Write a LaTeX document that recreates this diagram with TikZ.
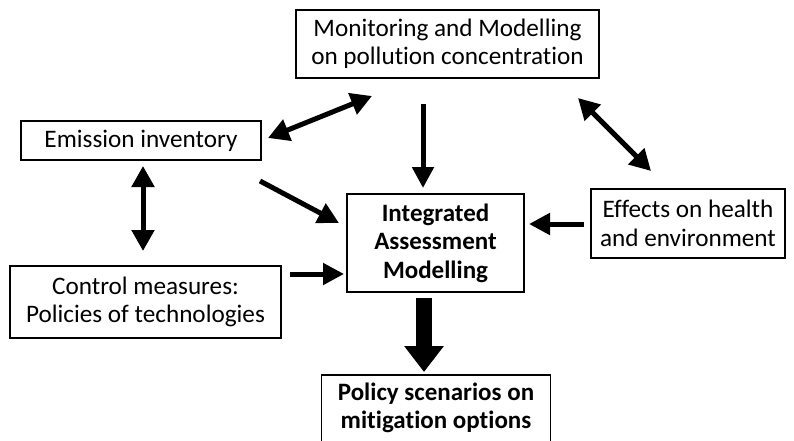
\documentclass[tikz,border=0pt]{standalone}
\usepackage{fontspec}
\setmainfont{Carlito}[Ligatures=NoCommon]
\usetikzlibrary{arrows.meta}
\begin{document}
\begin{tikzpicture}[x=1pt,y=-1pt,
  box/.style={draw, line width=1.3pt, align=center, inner sep=0pt,
    font=\fontsize{25.2}{28.5}\selectfont},
  bbox/.style={box, font=\bfseries\fontsize{25}{28.5}\selectfont},
  arr/.style={line width=5pt, -{Triangle[length=21pt,width=21pt]}},
  darr/.style={line width=5pt, {Triangle[length=21pt,width=22pt]}-{Triangle[length=21pt,width=22pt]}},
  bigarr/.style={line width=16pt, -{Triangle[length=26pt,width=38pt]}}]
\useasboundingbox (0,0) rectangle (794,441);
\fill[white] (0,0) rectangle (794,441);
\node[box, minimum width=303pt, minimum height=68pt] (mon) at (447.5,44)
  {Monitoring and Modelling\\on pollution concentration};
\node[box, minimum width=240pt, minimum height=39pt] (emi) at (141,140.5)
  {Emission inventory};
\node[box, minimum width=271pt, minimum height=72pt] (ctl) at (145.5,302)
  {Control measures:\\Policies of technologies};
\node[bbox, minimum width=177pt, minimum height=98pt] (iam) at (435.5,243)
  {Integrated\\Assessment\\Modelling};
\node[box, minimum width=194pt, minimum height=69pt] (eff) at (688,223.5)
  {Effects on health\\and environment};
\node[bbox, draw=none, minimum width=228pt, minimum height=64pt, anchor=north] (pol) at (436,375)
  {Policy scenarios on\\mitigation options};
\draw[line width=1.3pt] (pol.north west) rectangle ([yshift=-30pt]pol.south east);
% arrow end points
\coordinate (a1) at (268,138); \coordinate (b1) at (372,96);
\coordinate (a2) at (423,104); \coordinate (b2) at (423,188);
\coordinate (a3) at (578,98);  \coordinate (b3) at (651,171);
\coordinate (a4) at (143,166); \coordinate (b4) at (143,251);
\coordinate (a5) at (260,181); \coordinate (b5) at (339,223);
\coordinate (a6) at (290,274); \coordinate (b6) at (344,274);
\coordinate (a7) at (584,224); \coordinate (b7) at (529,224);
\coordinate (a8) at (424,298); \coordinate (b8) at (424,372);
\draw[darr] (a1) -- (b1);
\draw[arr] (a2) -- (b2);
\draw[darr] (a3) -- (b3);
\draw[darr] (a4) -- (b4);
\draw[arr] (a5) -- (b5);
\draw[arr] (a6) -- (b6);
\draw[arr] (a7) -- (b7);
\draw[bigarr] (a8) -- (b8);
\end{tikzpicture}
\end{document}
